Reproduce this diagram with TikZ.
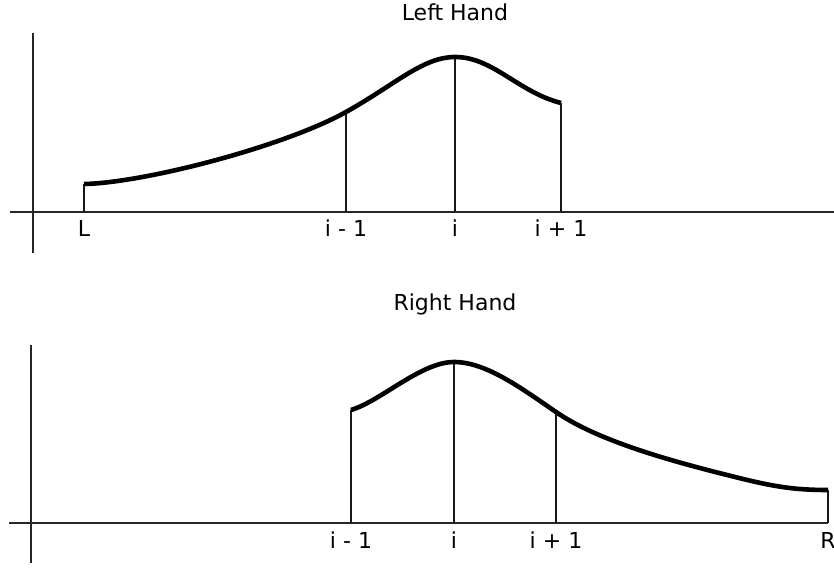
\documentclass[tikz,border=0pt]{standalone}
\usepackage{fontspec}
\setmainfont{DejaVu Sans}

\begin{document}
\begin{tikzpicture}[x=1pt, y=1pt, font=\fontsize{22}{26}\selectfont,
	axis/.style={line width=1.3pt, black!85},
	ordinate/.style={line width=1.2pt, black!90},
	curve/.style={line width=4.6pt, line join=round},
	tick/.style={anchor=base, inner sep=0pt}]
	\useasboundingbox (0,0) rectangle (834,567);
	% left hand
	\begin{scope}[shift={(33,355)}]
		\draw[axis] (0,-41) -- (0,179);
		\draw[axis] (-23,0) -- (801,0);
		\node[tick] (lhand) at (422,191) {Left Hand};
		\foreach \x/\h/\t [count=\k] in {51/28/L, 313/100/i - 1, 422/155/i, 528/109/i + 1} {
			\draw[ordinate] (\x,0) -- (\x,\h);
			\node[tick] (lt\k) at (\x,-25) {\t};
		}
		\draw[curve] (51,28) .. controls (110,29) and (250,65) .. (313,100)
			.. controls (363,128) and (390,155) .. (422,155)
			.. controls (460,155) and (485,120) .. (528,109);
	\end{scope}
	% right hand
	\begin{scope}[shift={(31,44)}]
		\draw[axis] (0,-40) -- (0,178);
		\draw[axis] (-22,0) -- (797,0);
		\node[tick] (rhand) at (424,212) {Right Hand};
		\foreach \x/\h/\t [count=\k] in {320/113/i - 1, 423/161/i, 525/111/i + 1, 797/33/R} {
			\draw[ordinate] (\x,0) -- (\x,\h);
			\node[tick] (rt\k) at (\x,-25) {\t};
		}
		\draw[curve] (320,113) .. controls (350,122) and (390,161) .. (423,161)
			.. controls (455,161) and (490,135) .. (525,111)
			.. controls (567,82) and (640,62) .. (700,47)
			.. controls (740,37) and (760,33) .. (797,33);
	\end{scope}
\end{tikzpicture}
\end{document}
